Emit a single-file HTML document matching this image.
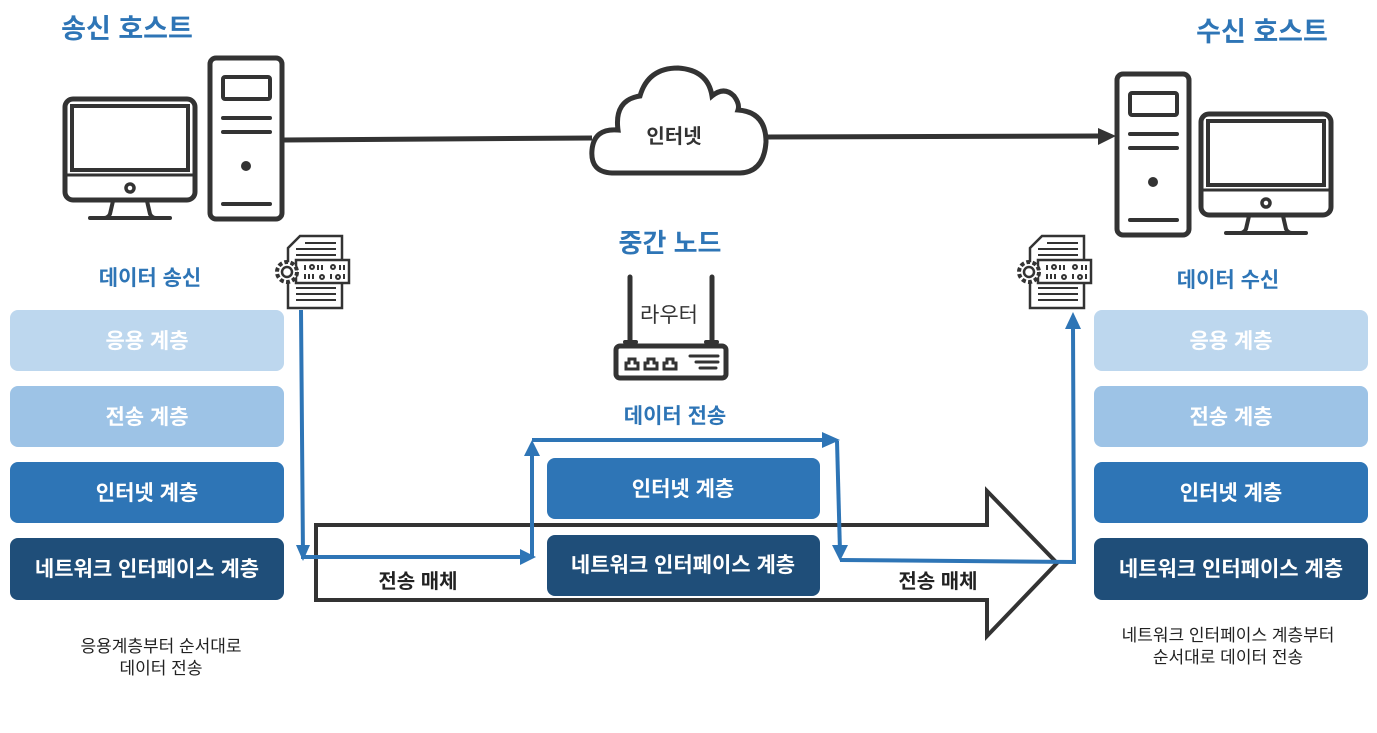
<!DOCTYPE html>
<html><head><meta charset="utf-8"><style>
html,body{margin:0;padding:0;background:#fff;}
svg{display:block;font-family:"Liberation Sans","Noto Sans CJK KR",sans-serif;}
</style></head><body>
<svg width="1377" height="733" viewBox="0 0 1377 733" xmlns="http://www.w3.org/2000/svg">
<defs>
<g id="mon" fill="none" stroke="#333" stroke-width="5" stroke-linecap="round">
  <rect x="65" y="99" width="130" height="101" rx="8"/>
  <rect x="72" y="106" width="116" height="64" fill="none" stroke-width="4"/>
  <line x1="67" y1="175" x2="193" y2="175" stroke-width="3"/>
  <circle cx="130" cy="188" r="4" stroke-width="3.5"/>
  <path d="M113 201 L110 214 Q108 218 104 218 M147 201 L150 214 Q152 218 156 218" stroke-width="4"/>
  <line x1="90" y1="218" x2="170" y2="218" stroke-width="4"/>
</g>
<g id="tower" fill="none" stroke="#333" stroke-linecap="round">
  <rect x="210" y="58" width="72" height="161" rx="6" stroke-width="5"/>
  <rect x="223" y="77" width="47" height="22" rx="2" stroke-width="4"/>
  <line x1="223" y1="118" x2="270" y2="118" stroke-width="4"/>
  <line x1="223" y1="132" x2="270" y2="132" stroke-width="4"/>
  <circle cx="246" cy="166" r="5" fill="#333" stroke="none"/>
  <line x1="223" y1="204" x2="270" y2="204" stroke-width="4"/>
</g>
<g id="doc" fill="#fff" stroke="#333" stroke-width="2.5">
  <path d="M300 236 H342 V308 H288 V248 Z"/>
  <g stroke-width="2"><line x1="305" y1="243" x2="336" y2="243"/><line x1="296" y1="249" x2="336" y2="249"/><line x1="296" y1="255" x2="336" y2="255"/>
  <line x1="296" y1="288" x2="336" y2="288"/><line x1="296" y1="294" x2="336" y2="294"/><line x1="296" y1="300" x2="336" y2="300"/></g>
  <rect x="296" y="260" width="53" height="23"/>
  <g stroke-width="2"><line x1="305" y1="265" x2="305" y2="270"/><line x1="318" y1="265" x2="318" y2="270"/><line x1="322" y1="265" x2="322" y2="270"/><line x1="340" y1="265" x2="340" y2="270"/><line x1="344" y1="265" x2="344" y2="270"/>
  <line x1="305" y1="274" x2="305" y2="279"/><line x1="309" y1="274" x2="309" y2="279"/><line x1="313" y1="274" x2="313" y2="279"/><line x1="331" y1="274" x2="331" y2="279"/><line x1="344" y1="274" x2="344" y2="279"/>
  <circle cx="312" cy="267" r="2"/><circle cx="333" cy="267" r="2"/><circle cx="322" cy="277" r="2"/><circle cx="338" cy="277" r="2"/></g>
  <circle cx="287" cy="272" r="10" stroke-dasharray="4 2.3" stroke-width="4"/>
  <circle cx="287" cy="272" r="5"/>
</g>
</defs>

<text x="127" y="38" text-anchor="middle" font-size="27" font-weight="bold" fill="#2e75b6">송신 호스트</text>
<text x="1262" y="41" text-anchor="middle" font-size="27" font-weight="bold" fill="#2e75b6">수신 호스트</text>
<text x="670" y="252" text-anchor="middle" font-size="26" font-weight="bold" fill="#2e75b6">중간 노드</text>

<use href="#mon"/>
<use href="#tower"/>
<use href="#tower" transform="translate(907,16)"/>
<use href="#mon" transform="translate(1136,15)"/>

<line x1="284" y1="140" x2="592" y2="138" stroke="#333" stroke-width="5"/>
<line x1="766" y1="137" x2="1100" y2="136" stroke="#333" stroke-width="5"/>
<polygon points="1098,128 1116,136 1098,145" fill="#333"/>
<path d="M612 173 Q590 172 592 150 Q594 128 618 130 Q614 100 640 96 Q648 68 678 68 Q708 70 712 96 Q724 86 734 96 Q740 104 738 110 Q766 112 766 142 Q764 172 740 173 Z" fill="#fff" stroke="#333" stroke-width="5"/>
<text x="674" y="143" text-anchor="middle" font-size="20" font-weight="bold" fill="#333">인터넷</text>

<use href="#doc"/>
<use href="#doc" transform="translate(742,0)"/>

<text x="150" y="285" text-anchor="middle" font-size="21" font-weight="bold" fill="#2e75b6">데이터 송신</text>
<text x="1228" y="287" text-anchor="middle" font-size="21" font-weight="bold" fill="#2e75b6">데이터 수신</text>

<g fill="none" stroke="#333" stroke-width="5" stroke-linecap="round">
  <line x1="630" y1="277" x2="630" y2="340"/>
  <line x1="712" y1="277" x2="712" y2="340"/>
  <rect x="616" y="346" width="110" height="32" rx="4"/>
  <line x1="625" y1="342" x2="636" y2="342" stroke-width="4"/>
  <line x1="706" y1="342" x2="717" y2="342" stroke-width="4"/>
  <path d="M626 369 v-6 h3 v-4 h6 v4 h3 v6 Z M645 369 v-6 h3 v-4 h6 v4 h3 v6 Z M664 369 v-6 h3 v-4 h6 v4 h3 v6 Z" stroke-width="3"/>
  <line x1="690" y1="356" x2="718" y2="356" stroke-width="3"/>
  <line x1="696" y1="362" x2="718" y2="362" stroke-width="3"/>
  <line x1="700" y1="368" x2="716" y2="368" stroke-width="3"/>
</g>
<text x="669" y="322" text-anchor="middle" font-size="21" fill="#333">라우터</text>
<text x="675" y="423" text-anchor="middle" font-size="21" font-weight="bold" fill="#2e75b6">데이터 전송</text>

<path d="M316 525 H987 V491 L1057 563 L987 636 V600 H316 Z" fill="#fff" stroke="#333" stroke-width="4"/>
<text x="418" y="588" text-anchor="middle" font-size="20" font-weight="bold" fill="#222">전송 매체</text>
<text x="938" y="588" text-anchor="middle" font-size="20" font-weight="bold" fill="#222">전송 매체</text>

<g font-size="21" font-weight="bold" text-anchor="middle" fill="#fff">
  <rect x="10" y="310" width="274" height="61" rx="8" fill="#bdd7ee"/>
  <rect x="10" y="386" width="274" height="61" rx="8" fill="#9dc3e6"/>
  <rect x="10" y="462" width="274" height="61" rx="8" fill="#2e75b6"/>
  <rect x="10" y="538" width="274" height="62" rx="8" fill="#1f4e79"/>
  <text x="147" y="348">응용 계층</text>
  <text x="147" y="424">전송 계층</text>
  <text x="147" y="500">인터넷 계층</text>
  <text x="147" y="576">네트워크 인터페이스 계층</text>

  <rect x="1094" y="310" width="274" height="61" rx="8" fill="#bdd7ee"/>
  <rect x="1094" y="386" width="274" height="61" rx="8" fill="#9dc3e6"/>
  <rect x="1094" y="462" width="274" height="61" rx="8" fill="#2e75b6"/>
  <rect x="1094" y="538" width="274" height="62" rx="8" fill="#1f4e79"/>
  <text x="1231" y="348">응용 계층</text>
  <text x="1231" y="424">전송 계층</text>
  <text x="1231" y="500">인터넷 계층</text>
  <text x="1231" y="576">네트워크 인터페이스 계층</text>

  <rect x="547" y="458" width="273" height="61" rx="8" fill="#2e75b6"/>
  <rect x="547" y="535" width="273" height="61" rx="8" fill="#1f4e79"/>
  <text x="683" y="496">인터넷 계층</text>
  <text x="683" y="572">네트워크 인터페이스 계층</text>
</g>

<g fill="none" stroke="#2e75b6" stroke-width="4">
  <polyline points="301,310 303,557 522,557"/>
  <polyline points="532,557 532,450"/>
  <polyline points="532,440 826,440"/>
  <polyline points="837,441 840,552"/>
  <polyline points="840,560 1074,562 1073,327"/>
</g>
<g fill="#2e75b6">
  <polygon points="296,545 310,545 303,561"/>
  <polygon points="520,549 536,557 520,565"/>
  <polygon points="524,456 540,456 532,440"/>
  <polygon points="822,432 840,440 822,448"/>
  <polygon points="832,545 848,545 840,561"/>
  <polygon points="1065,329 1081,329 1073,312"/>
</g>

<g font-size="17" text-anchor="middle" fill="#222">
  <text x="161" y="652">응용계층부터 순서대로</text>
  <text x="161" y="674">데이터 전송</text>
  <text x="1228" y="641">네트워크 인터페이스 계층부터</text>
  <text x="1228" y="663">순서대로 데이터 전송</text>
</g>
</svg>
</body></html>
